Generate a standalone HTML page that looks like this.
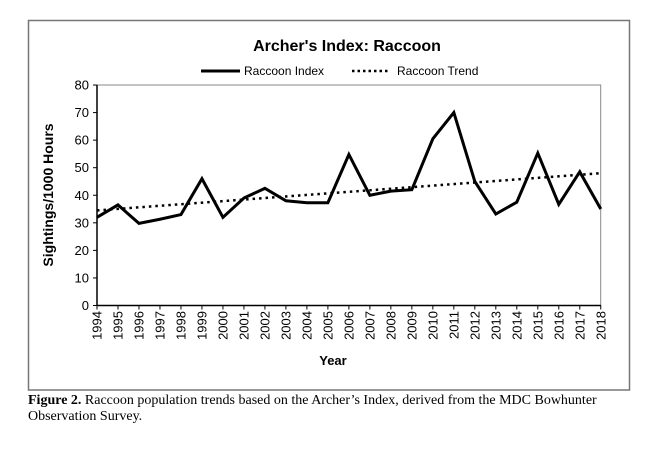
<!DOCTYPE html>
<html><head><style>body{margin:0;background:#fff}svg{display:block}</style></head>
<body>
<svg width="668" height="451" xmlns="http://www.w3.org/2000/svg">
<rect x="28.5" y="20.5" width="601" height="369.5" fill="#fff" stroke="#777" stroke-width="1.5"/>
<text x="347" y="51" text-anchor="middle" font-family="Liberation Sans, sans-serif" font-size="16" font-weight="bold">Archer's Index: Raccoon</text>
<line x1="201" y1="71" x2="240" y2="71" stroke="#000" stroke-width="3"/>
<text x="244" y="75" font-family="Liberation Sans, sans-serif" font-size="12">Raccoon Index</text>
<line x1="352" y1="71" x2="390" y2="71" stroke="#000" stroke-width="2.5" stroke-dasharray="2.5,3"/>
<text x="397" y="75" font-family="Liberation Sans, sans-serif" font-size="12">Raccoon Trend</text>
<rect x="97" y="85" width="503.7" height="220.5" fill="none" stroke="#888" stroke-width="1"/>
<line x1="97" y1="85" x2="97" y2="306" stroke="#000" stroke-width="1.5"/>
<line x1="97" y1="305.5" x2="601" y2="305.5" stroke="#000" stroke-width="1.5"/>
<g id="yt" font-family="Liberation Sans, sans-serif" font-size="13" text-anchor="end"></g>
<g id="xt" font-family="Liberation Sans, sans-serif" font-size="13"></g>
<polyline id="trend" fill="none" stroke="#000" stroke-width="2.5" stroke-dasharray="2.5,4"/>
<polyline id="idx" fill="none" stroke="#000" stroke-width="3" stroke-linejoin="miter"/>
<text x="333" y="365" text-anchor="middle" font-family="Liberation Sans, sans-serif" font-size="13" font-weight="bold">Year</text>
<text transform="translate(53,195) rotate(-90)" text-anchor="middle" font-family="Liberation Sans, sans-serif" font-size="14" font-weight="bold">Sightings/1000 Hours</text>
<text x="28" y="404" font-family="Liberation Serif, serif" font-size="14"><tspan font-weight="bold">Figure 2.</tspan> Raccoon population trends based on the Archer’s Index, derived from the MDC Bowhunter</text>
<text x="28" y="420" font-family="Liberation Serif, serif" font-size="14">Observation Survey.</text>
<script>
var ns="http://www.w3.org/2000/svg",x0=97,dx=20.99,y0=305.5,k=2.756;
var yt=document.getElementById('yt'),xt=document.getElementById('xt'),svg=document.querySelector('svg');
for(var v=0;v<=80;v+=10){var y=y0-v*k;var t=document.createElementNS(ns,'text');t.setAttribute('x',89);t.setAttribute('y',y+4.5);t.textContent=v;yt.appendChild(t);
var l=document.createElementNS(ns,'line');l.setAttribute('x1',93);l.setAttribute('x2',97);l.setAttribute('y1',y);l.setAttribute('y2',y);l.setAttribute('stroke','#000');svg.appendChild(l);}
var d=[32,36.5,29.8,31.3,33,46,32,39,42.5,38,37.3,37.3,54.8,40,41.5,42,60.5,70,45,33.2,37.5,55.3,36.7,48.5,35];
var p=[];for(var i=0;i<25;i++){var x=x0+i*dx;p.push(x+','+(y0-d[i]*k));
var t=document.createElementNS(ns,'text');t.setAttribute('transform','translate('+(x+4.5)+',311) rotate(-90)');t.setAttribute('text-anchor','end');t.textContent=1994+i;xt.appendChild(t);
var l=document.createElementNS(ns,'line');l.setAttribute('x1',x);l.setAttribute('x2',x);l.setAttribute('y1',305.5);l.setAttribute('y2',309.5);l.setAttribute('stroke','#000');svg.appendChild(l);}
document.getElementById('idx').setAttribute('points',p.join(' '));
document.getElementById('trend').setAttribute('points',x0+','+(y0-34.5*k)+' '+(x0+24*dx)+','+(y0-48*k));
</script>
</svg>
</body></html>
